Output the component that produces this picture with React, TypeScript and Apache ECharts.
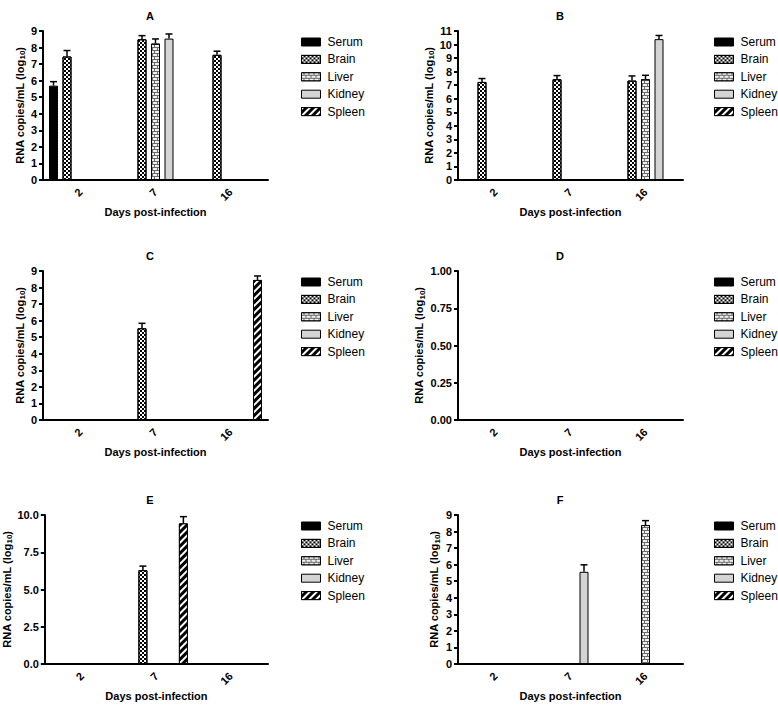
import React, { useEffect, useRef } from "react";
import * as echarts from "echarts";

const FONT = "Liberation Sans";

const days = ["2", "7", "16"];
const tissues = ["Serum", "Brain", "Liver", "Kidney", "Spleen"];
const panelTitles = ["A", "B", "C", "D", "E", "F"];

// means per tissue (Serum, Brain, Liver, Kidney, Spleen) per day (2, 7, 16)
const meanA = [[5.7, null, null], [7.46, 8.5, 7.56], [null, 8.24, null], [null, 8.54, null], [null, null, null]];
const errA = [[0.24, null, null], [0.36, 0.22, 0.22], [null, 0.28, null], [null, 0.28, null], [null, null, null]];
const meanB = [[null, null, null], [7.24, 7.44, 7.34], [null, null, 7.44], [null, null, 10.4], [null, null, null]];
const errB = [[null, null, null], [0.25, 0.27, 0.34], [null, null, 0.29], [null, null, 0.27], [null, null, null]];
const meanC = [[null, null, null], [null, 5.54, null], [null, null, null], [null, null, null], [null, null, 8.46]];
const errC = [[null, null, null], [null, 0.3, null], [null, null, null], [null, null, null], [null, null, 0.24]];
const meanD = [[null, null, null], [null, null, null], [null, null, null], [null, null, null], [null, null, null]];
const errD = [[null, null, null], [null, null, null], [null, null, null], [null, null, null], [null, null, null]];
const meanE = [[null, null, null], [null, 6.3, null], [null, null, null], [null, null, null], [null, 9.44, null]];
const errE = [[null, null, null], [null, 0.27, null], [null, null, null], [null, null, null], [null, 0.45, null]];
const meanF = [[null, null, null], [null, null, null], [null, null, 8.39], [null, 5.57, null], [null, null, null]];
const errF = [[null, null, null], [null, null, null], [null, null, 0.27], [null, 0.42, null], [null, null, null]];

const yMax = [9, 11, 9, 1, 10, 9];
const yInterval = [1, 1, 1, 0.25, 2.5, 1];
const yDecimals = [0, 0, 0, 2, 1, 0];

const means = [meanA, meanB, meanC, meanD, meanE, meanF];
const errs = [errA, errB, errC, errD, errE, errF];

const gridPos = [
  [43, 31], [458, 31],
  [43, 271], [458, 271],
  [43, 515], [458, 515],
];
const nameGaps = [15, 22, 15, 32, 29, 17];
const GRID_W = 225;
const GRID_H = 149;
const BAR_W = 9;
const SLOT = 13.5;

const tissueStyles: any[] = [
  { color: "#000", borderColor: "#000", borderWidth: 1 },
  {
    color: "#fff", borderColor: "#000", borderWidth: 1,
    decal: { symbol: "rect", symbolSize: 1, color: "#000", dashArrayX: [[2, 2], [0, 2, 2, 0]], dashArrayY: [2, 0] },
  },
  {
    color: "#6a6a6a", borderColor: "#000", borderWidth: 1,
    decal: { symbol: "rect", symbolSize: 1, color: "#f0f0f0", dashArrayX: [[4, 1], [2, 1, 2, 0]], dashArrayY: [2, 1] },
  },
  { color: "#d4d4d4", borderColor: "#000", borderWidth: 1 },
  {
    color: "#000", borderColor: "#000", borderWidth: 1,
    decal: { symbol: "rect", symbolSize: 1, color: "#fff", dashArrayX: [[1, 0]], dashArrayY: [1.5, 3], rotation: -Math.PI / 4 },
  },
];

export default function App() {
  const ref = useRef<HTMLDivElement>(null);
  useEffect(() => {
    if (!ref.current) return;
    const chart = echarts.init(ref.current, null, { renderer: "svg" });

    const grid = gridPos.map(([l, t]) => ({ left: l, top: t, width: GRID_W, height: GRID_H }));
    const xAxis = gridPos.map((_, i) => ({
      type: "category",
      gridIndex: i,
      data: days,
      axisLine: { lineStyle: { color: "#000", width: 2 } },
      axisTick: { alignWithLabel: true, length: 5, lineStyle: { color: "#000", width: 2 } },
      axisLabel: { rotate: 45, color: "#000", fontWeight: "bold", fontSize: 11, fontFamily: FONT, margin: 10 },
      name: "Days post-infection",
      nameLocation: "middle",
      nameGap: 26,
      nameTextStyle: { color: "#000", fontWeight: "bold", fontSize: 11, fontFamily: FONT },
    }));
    const yAxis = gridPos.map((_, i) => ({
      type: "value",
      gridIndex: i,
      min: 0,
      max: yMax[i],
      interval: yInterval[i],
      axisLine: { show: true, lineStyle: { color: "#000", width: 2 } },
      axisTick: { show: true, length: 4, lineStyle: { color: "#000", width: 2 } },
      splitLine: { show: false },
      axisLabel: {
        color: "#000", fontWeight: "bold", fontSize: 11, fontFamily: FONT, margin: 6,
        formatter: (v: number) => v.toFixed(yDecimals[i]),
      },
      name: "{n|RNA copies/mL (log}{s|10}{n|)}",
      nameLocation: "middle",
      nameRotate: 90,
      nameGap: nameGaps[i],
      nameTextStyle: {
        rich: {
          n: { fontSize: 11, fontWeight: "bold", fontFamily: FONT, color: "#000", lineHeight: 14, verticalAlign: "middle" },
          s: { fontSize: 8, fontWeight: "bold", fontFamily: FONT, color: "#000", lineHeight: 8, verticalAlign: "bottom" },
        },
      },
    }));

    const series: any[] = [];
    means.forEach((panel, p) => {
      panel.forEach((vals, t) => {
        series.push({
          type: "bar",
          name: tissues[t],
          xAxisIndex: p,
          yAxisIndex: p,
          data: vals.map((v) => (v == null ? "-" : v)),
          barWidth: BAR_W,
          barGap: "50%",
          itemStyle: tissueStyles[t],
          emphasis: { disabled: true },
        });
      });
      const errData: any[] = [];
      panel.forEach((vals, t) => {
        vals.forEach((v, c) => {
          const e = errs[p][t][c];
          if (v != null && e != null) errData.push([c, v, v + e, t]);
        });
      });
      series.push({
        type: "custom",
        xAxisIndex: p,
        yAxisIndex: p,
        data: errData,
        encode: { x: 0, y: [1, 2] },
        z: 5,
        renderItem: (params: any, api: any) => {
          const c = api.value(0);
          const p0 = api.coord([c, api.value(1)]);
          const p1 = api.coord([c, api.value(2)]);
          const x = p0[0] + (api.value(3) - 2) * SLOT;
          return {
            type: "group",
            children: [
              { type: "line", shape: { x1: x, y1: p0[1], x2: x, y2: p1[1] }, style: { stroke: "#000", lineWidth: 1.5 } },
              { type: "line", shape: { x1: x - 3.5, y1: p1[1], x2: x + 3.5, y2: p1[1] }, style: { stroke: "#000", lineWidth: 1.5 } },
            ],
          };
        },
      });
    });

    const legend = gridPos.map(([l, t]) => ({
      orient: "vertical",
      left: l < 100 ? 301 : 714,
      top: t + 5,
      padding: 0,
      itemWidth: 19,
      itemHeight: 8,
      itemGap: 5.4,
      icon: "rect",
      selectedMode: false,
      data: tissues,
      itemStyle: { borderColor: "#000", borderWidth: 1 },
      textStyle: { fontSize: 12, color: "#000", fontFamily: FONT, padding: [0, 0, 0, 2] },
    }));

    const graphic = gridPos.map(([l, t], i) => ({
      type: "text",
      x: l < 100 ? 150 : 560,
      y: t - 15,
      style: { text: panelTitles[i], align: "center", verticalAlign: "middle", font: `bold 11px ${FONT}`, fill: "#000" },
    }));

    chart.setOption({
      animation: false,
      backgroundColor: "#fff",
      grid,
      xAxis,
      yAxis,
      legend,
      series,
      graphic,
    });
    return () => chart.dispose();
  }, []);
  return <div ref={ref} style={{ position: "fixed", left: 0, top: 0, width: 778, height: 706 }} />;
}
